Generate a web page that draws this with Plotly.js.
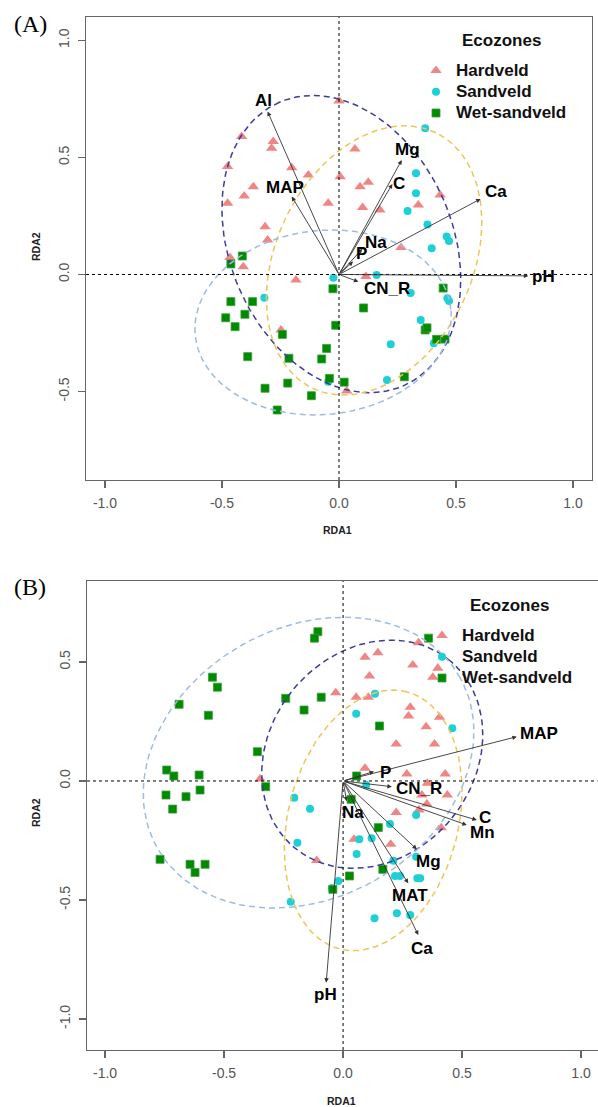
<!DOCTYPE html>
<html>
<head>
<meta charset="utf-8">
<script src="https://cdn.plot.ly/plotly-3.0.1.min.js"></script>
<style>html,body{margin:0;padding:0;background:#fff;}#chart{width:598px;height:1107px;}</style>
</head>
<body>
<div id="chart"></div>
<script>
// ---------------- DATA ----------------
const groups = ['Hardveld', 'Sandveld', 'Wet-sandveld'];
const legendTitle = 'Ecozones';

// Panel A site scores
const hardA_x = [-0.416,-0.281,-0.288,-0.476,-0.202,-0.366,-0.405,-0.476,-0.316,-0.305,-0.466,-0.409,-0.131,0.005,-0.046,-0.184,-0.248,0.0,0.068,0.090,0.125,0.101,0.175,0.339,0.432,0.265,0.115,0.033];
const hardA_y = [0.589,0.568,0.539,0.461,0.456,0.375,0.335,0.304,0.204,0.147,0.073,0.033,0.425,0.418,0.304,-0.024,-0.237,0.741,0.536,0.375,0.394,0.286,0.276,0.297,0.340,0.115,-0.009,-0.498];
const sandA_x = [0.368,0.329,0.329,0.293,0.378,0.460,0.470,0.396,0.161,-0.024,0.306,0.463,0.470,0.349,0.405,0.221,0.205,-0.046,-0.319];
const sandA_y = [0.625,0.432,0.347,0.271,0.214,0.162,0.143,0.112,-0.002,-0.014,-0.079,-0.102,-0.113,-0.194,-0.294,-0.298,-0.451,-0.458,-0.099];
const wetA_x = [-0.462,-0.413,-0.026,-0.462,-0.369,-0.484,-0.402,-0.444,-0.014,-0.242,-0.390,-0.053,-0.074,-0.214,-0.041,-0.219,-0.316,-0.118,0.022,-0.264,0.105,0.445,0.368,0.376,0.417,0.453,0.279];
const wetA_y = [0.045,0.079,-0.061,-0.116,-0.116,-0.185,-0.170,-0.223,-0.217,-0.256,-0.351,-0.316,-0.361,-0.358,-0.444,-0.464,-0.486,-0.518,-0.460,-0.579,-0.143,-0.058,-0.237,-0.228,-0.277,-0.276,-0.437];

// Panel A environmental vectors
const vecA_names = ['Al','MAP','Mg','C','Ca','Na','P','CN_R','pH'];
const vecA_x = [-0.305,-0.202,0.268,0.228,0.605,0.100,0.060,0.083,0.809];
const vecA_y = [0.696,0.333,0.489,0.387,0.323,0.110,0.055,-0.031,-0.006];

// Panel A group ellipses: centre x, centre y, semi-axis 1, semi-axis 2, angle (deg)
const ellA_cx = [0.010, 0.150, -0.068];
const ellA_cy = [0.130, 0.060, -0.205];
const ellA_a  = [0.661, 0.606, 0.549];
const ellA_b  = [0.476, 0.419, 0.393];
const ellA_ang = [113.6, 64.2, 5.9];

// Panel B site scores
const hardB_x = [0.317,0.092,0.146,0.293,0.398,0.377,0.111,-0.031,0.055,0.106,0.282,0.275,0.405,0.349,0.223,0.384,0.092,0.268,0.429,0.354,0.438,0.331,0.352,0.319,0.223,0.412,0.046,0.200,-0.349,-0.111];
const hardB_y = [0.581,0.520,0.539,0.487,0.473,0.436,0.441,0.371,0.352,0.352,0.310,0.273,0.268,0.228,0.155,0.155,0.053,0.029,0.029,-0.010,-0.059,-0.059,-0.097,-0.122,-0.132,-0.196,-0.245,-0.266,0.008,-0.334];
const sandB_x = [0.134,0.055,0.459,0.097,0.307,0.197,0.068,0.120,0.057,0.307,0.211,0.218,0.239,0.312,0.324,0.132,0.226,0.282,-0.205,-0.139,-0.192,-0.020,-0.047,-0.220];
const sandB_y = [0.366,0.282,0.221,-0.017,-0.143,-0.181,-0.245,-0.241,-0.307,-0.318,-0.335,-0.399,-0.399,-0.409,-0.409,-0.577,-0.556,-0.563,-0.070,-0.117,-0.259,-0.420,-0.451,-0.507];
const wetB_x = [-0.549,-0.528,-0.689,-0.566,-0.241,-0.360,-0.741,-0.711,-0.605,-0.601,-0.744,-0.660,-0.716,-0.325,-0.769,-0.643,-0.622,-0.580,-0.106,-0.120,-0.092,-0.164,0.027,-0.043,0.359,0.153,0.057,0.034,0.148,0.167];
const wetB_y = [0.436,0.394,0.322,0.276,0.347,0.123,0.046,0.021,0.025,-0.038,-0.059,-0.066,-0.118,-0.024,-0.329,-0.350,-0.384,-0.350,0.627,0.600,0.352,0.298,-0.399,-0.455,0.600,0.231,0.021,-0.077,-0.196,-0.371];

// Panel B environmental vectors
const vecB_names = ['MAP','P','CN_R','C','Mn','Na','Mg','MAT','Ca','pH'];
const vecB_x = [0.730,0.130,0.205,0.562,0.520,0.015,0.310,0.274,0.316,-0.071];
const vecB_y = [0.186,0.040,-0.024,-0.164,-0.185,-0.085,-0.287,-0.430,-0.647,-0.847];

// Panel B group ellipses
const ellB_cx = [0.1225, 0.1265, -0.145];
const ellB_cy = [0.1125, -0.1655, 0.077];
const ellB_a  = [0.511, 0.558, 0.730];
const ellB_b  = [0.429, 0.3575, 0.568];
const ellB_ang = [50.2, 75.3, 29.3];

// Axis ticks
const tickVals = [-1, -0.5, 0, 0.5, 1];
const tickText = ['-1.0', '-0.5', '0.0', '0.5', '1.0'];

// ---------------- STYLE ----------------
const FONT = 'Liberation Sans, Arial, Helvetica, sans-serif';
const ptColors = ['#f08585', '#1fcfd6', '#008a00'];
const ptSymbols = ['triangle-up', 'circle', 'square'];
const ptSizes = [10, 8, 8];
const ellColors = ['#3c3c9e', '#f0c458', '#9fbbe0'];
// label offsets in pixels (right, up) relative to arrow tips
const shiftA = [[-4,11],[-7,9],[6,11],[7,0],[15,7],[14,6],[8,8],[29,-7],[15,-1]];
const shiftB = [[22,3],[11,-1],[27,-2],[8,3],[16,-7],[6,-11],[12,-12],[2,-12],[4,-13],[-1,-12]];

function ellipsePath(cx, cy, a, b, angDeg) {
  const th = angDeg * Math.PI / 180, xs = [], ys = [];
  for (let i = 0; i <= 120; i++) {
    const t = 2 * Math.PI * i / 120;
    const u = a * Math.cos(t), v = b * Math.sin(t);
    xs.push(cx + u * Math.cos(th) - v * Math.sin(th));
    ys.push(cy + u * Math.sin(th) + v * Math.cos(th));
  }
  return {x: xs, y: ys};
}

const traces = [];
function panelTraces(pairs, ell, xa, ya, leg) {
  for (let g = 0; g < 3; g++) {
    traces.push({
      type: 'scatter', mode: 'markers', x: pairs[g][0], y: pairs[g][1],
      xaxis: xa, yaxis: ya, legend: leg,
      name: '<b><span style="font-size:17px">' + groups[g] + '</span></b>',
      marker: {symbol: ptSymbols[g], size: ptSizes[g], color: ptColors[g],
               line: {width: g === 2 ? 0.8 : 0, color: '#3aa03a'}},
      hoverinfo: 'skip'
    });
  }
  for (let g = 0; g < 3; g++) {
    const p = ellipsePath(ell.cx[g], ell.cy[g], ell.a[g], ell.b[g], ell.ang[g]);
    traces.push({
      type: 'scatter', mode: 'lines', x: p.x, y: p.y, xaxis: xa, yaxis: ya,
      showlegend: false, hoverinfo: 'skip',
      line: {color: ellColors[g], width: 1.5, dash: '6px,4px'}
    });
  }
}
panelTraces([[hardA_x, hardA_y], [sandA_x, sandA_y], [wetA_x, wetA_y]],
            {cx: ellA_cx, cy: ellA_cy, a: ellA_a, b: ellA_b, ang: ellA_ang}, 'x', 'y', 'legend');
panelTraces([[hardB_x, hardB_y], [sandB_x, sandB_y], [wetB_x, wetB_y]],
            {cx: ellB_cx, cy: ellB_cy, a: ellB_a, b: ellB_b, ang: ellB_ang}, 'x2', 'y2', 'legend2');

const annotations = [];
function addVectors(names, vx, vy, shifts, xr, yr) {
  for (let i = 0; i < names.length; i++) {
    annotations.push({x: vx[i], y: vy[i], ax: 0, ay: 0, xref: xr, yref: yr, axref: xr, ayref: yr,
      text: '', showarrow: true, arrowhead: 2, arrowsize: 1, arrowwidth: 0.9, arrowcolor: '#333', standoff: 0});
    annotations.push({x: vx[i], y: vy[i], xref: xr, yref: yr, text: names[i], showarrow: false,
      xanchor: 'center', yanchor: 'middle', xshift: shifts[i][0], yshift: shifts[i][1],
      font: {family: FONT, size: 17, weight: 'bold', color: '#000'}});
  }
}
addVectors(vecA_names, vecA_x, vecA_y, shiftA, 'x', 'y');
addVectors(vecB_names, vecB_x, vecB_y, shiftB, 'x2', 'y2');

const W = 598, H = 1107;
function px(x) { return x / W; }
function py(y) { return 1 - y / H; }
const axTitleFont = {family: FONT, size: 10.5, weight: 'bold', color: '#222'};
const legTitleFont = {family: FONT, size: 17, weight: 'bold', color: '#111'};
annotations.push(
  {xref: 'paper', yref: 'paper', x: px(12), y: py(24), xanchor: 'left', yanchor: 'middle', showarrow: false,
   text: '(A)', font: {family: 'Liberation Serif, Times New Roman, serif', size: 24, color: '#000'}},
  {xref: 'paper', yref: 'paper', x: px(12), y: py(587), xanchor: 'left', yanchor: 'middle', showarrow: false,
   text: '(B)', font: {family: 'Liberation Serif, Times New Roman, serif', size: 24, color: '#000'}},
  {xref: 'paper', yref: 'paper', x: px(501), y: py(41), xanchor: 'center', yanchor: 'middle', showarrow: false, text: legendTitle, font: legTitleFont},
  {xref: 'paper', yref: 'paper', x: px(509), y: py(605), xanchor: 'center', yanchor: 'middle', showarrow: false, text: legendTitle, font: legTitleFont},
  {xref: 'paper', yref: 'paper', x: px(337.5), y: py(530), xanchor: 'center', yanchor: 'middle', showarrow: false, text: 'RDA1', font: axTitleFont},
  {xref: 'paper', yref: 'paper', x: px(36), y: py(247), xanchor: 'center', yanchor: 'middle', showarrow: false, text: 'RDA2', textangle: -90, font: axTitleFont},
  {xref: 'paper', yref: 'paper', x: px(342), y: py(1101), xanchor: 'center', yanchor: 'middle', showarrow: false, text: 'RDA1', font: axTitleFont},
  {xref: 'paper', yref: 'paper', x: px(36), y: py(813), xanchor: 'center', yanchor: 'middle', showarrow: false, text: 'RDA2', textangle: -90, font: axTitleFont}
);

function axisBase(extra) {
  return Object.assign({
    showgrid: false, zeroline: false, showline: true, mirror: true,
    linecolor: '#666', linewidth: 1.3, ticks: 'outside', ticklen: 7, tickwidth: 1.3, tickcolor: '#666',
    tickfont: {family: FONT, size: 14, color: '#555'}, tickvals: tickVals, ticktext: tickText,
    fixedrange: true, ticklabelstandoff: 3
  }, extra);
}

const shapes = [
  {type: 'line', xref: 'x', yref: 'y domain', x0: 0, x1: 0, y0: 0, y1: 1, line: {color: '#000', width: 1, dash: 'dot'}},
  {type: 'line', xref: 'x domain', yref: 'y', x0: 0, x1: 1, y0: 0, y1: 0, line: {color: '#000', width: 1, dash: 'dot'}},
  {type: 'line', xref: 'x2', yref: 'y2 domain', x0: 0, x1: 0, y0: 0, y1: 1, line: {color: '#000', width: 1, dash: 'dot'}},
  {type: 'line', xref: 'x2 domain', yref: 'y2', x0: 0, x1: 1, y0: 0, y1: 0, line: {color: '#000', width: 1, dash: 'dot'}}
];

const legendBase = {
  xanchor: 'left', yanchor: 'top', bgcolor: 'rgba(0,0,0,0)', borderwidth: 0,
  font: {family: FONT, size: 14, color: '#111'}, itemwidth: 30, traceorder: 'normal'
};

const layout = {
  width: W, height: H, margin: {l: 0, r: 0, t: 0, b: 0},
  paper_bgcolor: '#fff', plot_bgcolor: '#fff', showlegend: true,
  xaxis: axisBase({domain: [86 / W, 592 / W], range: [-1.081, 1.081], anchor: 'y'}),
  yaxis: axisBase({domain: [py(480), py(17)], range: [-0.878, 1.100], anchor: 'x', tickangle: -90,
                   tickvals: [-0.5, 0, 0.5, 1], ticktext: ['-0.5', '0.0', '0.5', '1.0']}),
  xaxis2: axisBase({domain: [87 / W, 597.5 / W], range: [-1.076, 1.069], anchor: 'y2'}),
  yaxis2: axisBase({domain: [py(1050), py(581)], range: [-1.130, 0.840], anchor: 'x2', tickangle: -90,
                    tickvals: [-1, -0.5, 0, 0.5], ticktext: ['-1.0', '-0.5', '0.0', '0.5']}),
  legend: Object.assign({}, legendBase, {x: px(416), y: py(55)}),
  legend2: Object.assign({}, legendBase, {x: px(422), y: py(620)}),
  shapes: shapes,
  annotations: annotations
};

Plotly.newPlot('chart', traces, layout, {displayModeBar: false, staticPlot: true});
</script>
</body>
</html>
